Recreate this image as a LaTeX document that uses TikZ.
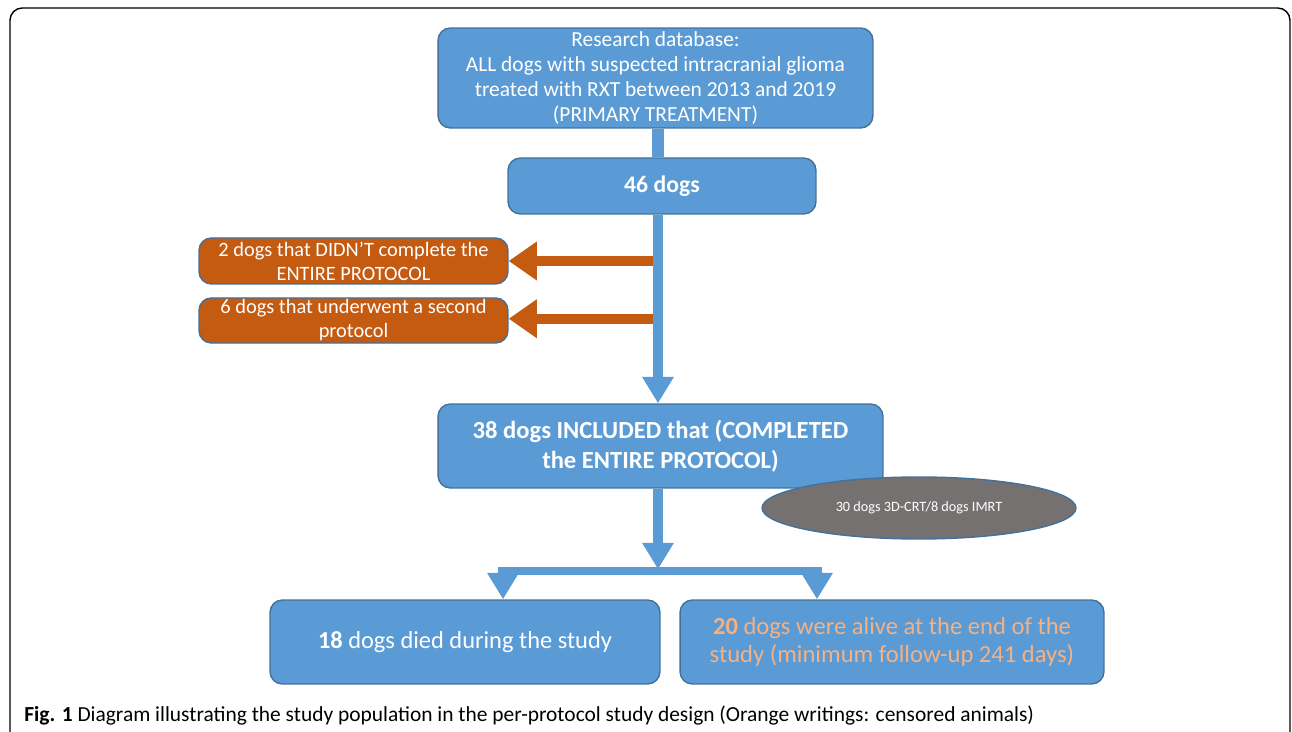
\documentclass[tikz,border=0pt]{standalone}
\usepackage{fontspec}
\setmainfont{Carlito}
\usetikzlibrary{arrows.meta,shapes.geometric}

\definecolor{boxblue}{HTML}{5B9BD5}
\definecolor{edgeblue}{HTML}{41719C}
\definecolor{censor}{HTML}{C55A11}
\definecolor{ovalgray}{HTML}{767171}
\definecolor{peach}{HTML}{F4B183}

\tikzset{
  box/.style={draw=edgeblue, line width=0.8pt, fill=boxblue, rounded corners=7pt,
    text=white, align=center, inner sep=1pt},
  censbox/.style={box, fill=censor},
  flow/.style={boxblue, line width=5.7pt, -{Triangle[width=17pt,length=15pt]}},
  cflow/.style={censor, line width=5.7pt, -{Triangle[width=21pt,length=16pt]}},
}

\begin{document}
\begin{tikzpicture}[x=0.02cm, y=-0.02cm]
      \useasboundingbox (0,0) rectangle (1292,732);
      % Moldura
      \draw[line width=0.8pt, rounded corners=7pt] (10,8) rectangle (1290,745);

      % Caixas principais
      \node[box, minimum width=8.7cm, minimum height=2cm, font=\fontsize{12.2}{14.2}\selectfont] (db) at (655.5,78)
        {Research database:\\ALL dogs with suspected intracranial glioma\\treated with RXT between 2013 and 2019\\(PRIMARY TREATMENT)};
      \node[box, minimum width=6.16cm, minimum height=1.12cm, font=\fontsize{13.5}{16}\selectfont\bfseries] (all) at (662,186) {46 dogs};

      % Animais censurados
      \node[censbox, minimum width=6.18cm, minimum height=0.92cm, font=\fontsize{11.6}{13.7}\selectfont] (incomplete) at (353.5,261)
        {2 dogs that DIDN'T complete the\\ENTIRE PROTOCOL};
      \node[censbox, minimum width=6.18cm, minimum height=0.9cm, font=\fontsize{11.6}{13.7}\selectfont] (second) at (353.5,320.5)
        {6 dogs that underwent a second\\protocol};

      \node[box, minimum width=8.9cm, minimum height=1.68cm, font=\fontsize{14}{17}\selectfont\bfseries] (included) at (660.5,446)
        {38 dogs INCLUDED that (COMPLETED\\the ENTIRE PROTOCOL)};
      \node[ellipse, draw=edgeblue, line width=0.8pt, fill=ovalgray, text=white, minimum width=6.28cm, minimum height=1.24cm,
        font=\fontsize{8.1}{9}\selectfont] (technique) at (919,508) {30 dogs 3D-CRT/8 dogs IMRT};

      % Desfecho
      \node[box, minimum width=7.8cm, minimum height=1.68cm, font=\fontsize{13.9}{16}\selectfont] (died) at (465,642)
        {\textbf{18} dogs died during the study};
      \node[box, minimum width=8.48cm, minimum height=1.68cm, text=peach, font=\fontsize{14}{16}\selectfont] (alive) at (892,642)
        {\textbf{20} dogs were alive at the end of the\\study (minimum follow-up 241 days)};

      % Legenda
      \node[anchor=west, inner sep=0pt, font=\fontsize{12.2}{14}\selectfont] (caption) at (24,716)
        {\textbf{Fig. 1} Diagram illustrating the study population in the per-protocol study design (Orange writings: censored animals)};

      % Setas
      \coordinate (spine) at (658,0);
      \coordinate (split) at (658,571);
      \coordinate (lsplit) at (503,571);
      \coordinate (rsplit) at (817,571);

      \draw[cflow] (incomplete.east -| spine) -- (incomplete.east);
      \draw[cflow] ([yshift=1pt]second.east -| spine) -- ([yshift=1pt]second.east);
      \draw[boxblue, line width=6.5pt] (db.south -| spine) -- (all.north -| spine);
      \draw[flow] (all.south -| spine) -- (included.north -| spine);
      \draw[boxblue, line width=5pt] ([xshift=-2pt]lsplit) -- ([xshift=3pt]rsplit);
      \draw[flow] (included.south -| spine) -- ([yshift=1pt]split);
      \draw[flow] ([yshift=2pt]lsplit) -- (died.north -| lsplit);
      \draw[flow] ([yshift=2pt]rsplit) -- (alive.north -| rsplit);
\end{tikzpicture}
\end{document}
